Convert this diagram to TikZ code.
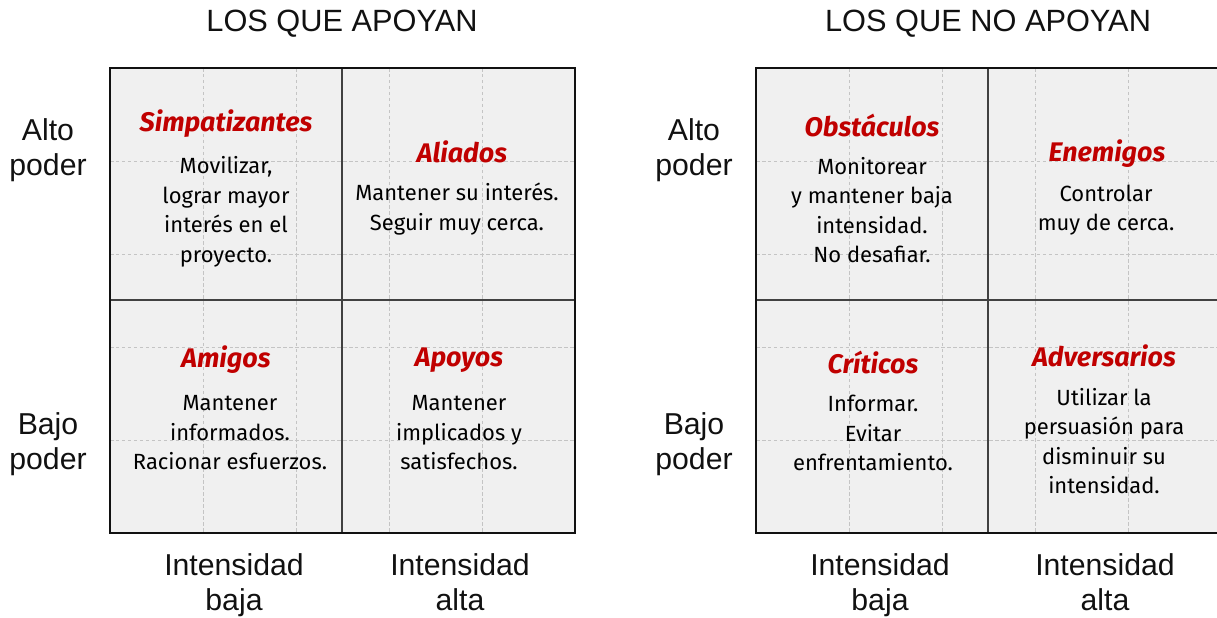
\documentclass[tikz,border=0pt]{standalone}
\usepackage{fontspec}
\setmainfont{Liberation Sans}
\newfontfamily\cellfont{Fira Sans}
\usepackage{xcolor}
\definecolor{mxInk}{HTML}{111111}
\definecolor{mxFill}{HTML}{F0F0F0}
\definecolor{mxGrid}{HTML}{C4C4C4}
\definecolor{mxRed}{HTML}{C00000}
\tikzset{
  frame/.style   = {line width=1.1pt, color=mxInk},
  divln/.style   = {line width=0.75pt, color=mxInk!80},
  gridln/.style  = {line width=0.35pt, color=mxGrid, dash pattern=on 2pt off 1.4pt},
  hdr/.style     = {font=\fontsize{17.5}{21}\selectfont, color=mxInk, inner sep=0},
  axl/.style     = {font=\fontsize{17.2}{20}\selectfont, color=mxInk, align=center,
                    inner sep=0},
  ttl/.style     = {font=\cellfont\bfseries\itshape\fontsize{15.3}{18}\selectfont,
                    color=mxRed, inner sep=0},
  body/.style    = {font=\cellfont\fontsize{12.5}{16.8}\selectfont, color=black,
                    align=center, inner sep=0},
}
% one 5x5 matrix. #1 x, #2 y of the top left corner (pixels, y down)
\newcommand{\matriz}[2]{%
  \fill[mxFill] (#1,#2) rectangle ({#1+465},{#2+465});
  \foreach \k in {93,186,279,372}
    {\draw[gridln] ({#1+\k},#2) -- ({#1+\k},{#2+465});
     \draw[gridln] (#1,{#2+\k}) -- ({#1+465},{#2+\k});}
  \draw[divln] ({#1+232},#2) -- ({#1+232},{#2+465});
  \draw[divln] (#1,{#2+232}) -- ({#1+465},{#2+232});
  \draw[frame] (#1,#2) rectangle ({#1+465},{#2+465});}

\begin{document}
\begin{tikzpicture}[x=0.2mm, y=-0.2mm]
\useasboundingbox (0,0) rectangle (1217,617);

% ===================== 1: los que apoyan ==========================
\matriz{110}{68}
\node[hdr] (hdrA) at (342,24) {LOS QUE APOYAN};
\node[axl] (altoA) at (48,150) {Alto\\poder};
\node[axl] (bajoA) at (48,444) {Bajo\\poder};
\node[axl] (bajaA) at (234,585) {Intensidad\\baja};
\node[axl] (altaA) at (460,582) {Intensidad\\alta};

\node[ttl]  (simp)  at (226,124) {Simpatizantes};
\node[body] (simpB) at (226,212) {Movilizar,\\lograr mayor\\inter\'es en el\\proyecto.};
\node[ttl]  (alia)  at (462,152) {Aliados};
\node[body] (aliaB) at (457,209) {Mantener su inter\'es.\\Seguir muy cerca.};
\node[ttl]  (amig)  at (226,360) {Amigos};
\node[body] (amigB) at (230,433) {Mantener\\informados.\\Racionar esfuerzos.};
\node[ttl]  (apoy)  at (459,360) {Apoyos};
\node[body] (apoyB) at (459,433) {Mantener\\implicados y\\satisfechos.};

% ===================== 2: los que no apoyan =======================
\matriz{756}{68}
\node[hdr] (hdrB) at (988,24) {LOS QUE NO APOYAN};
\node[axl] (altoB) at (694,150) {Alto\\poder};
\node[axl] (bajoB) at (694,444) {Bajo\\poder};
\node[axl] (bajaB) at (880,585) {Intensidad\\baja};
\node[axl] (altaB) at (1105,582) {Intensidad\\alta};

\node[ttl]  (obst)  at (872,126) {Obst\'aculos};
\node[body] (obstB) at (872,210) {Monitorear\\y mantener baja\\intensidad.\\No desafiar.};
\node[ttl]  (enem)  at (1107,154) {Enemigos};
\node[body] (enemB) at (1106,210) {Controlar\\muy de cerca.};
\node[ttl]  (crit)  at (873,362) {Cr\'iticos};
\node[body] (critB) at (873,433) {Informar.\\Evitar\\enfrentamiento.};
\node[ttl]  (adve)  at (1104,356) {Adversarios};
\node[body] (adveB) at (1104,441) {Utilizar la\\persuasi\'on para\\disminuir su\\intensidad.};

\end{tikzpicture}
\end{document}
